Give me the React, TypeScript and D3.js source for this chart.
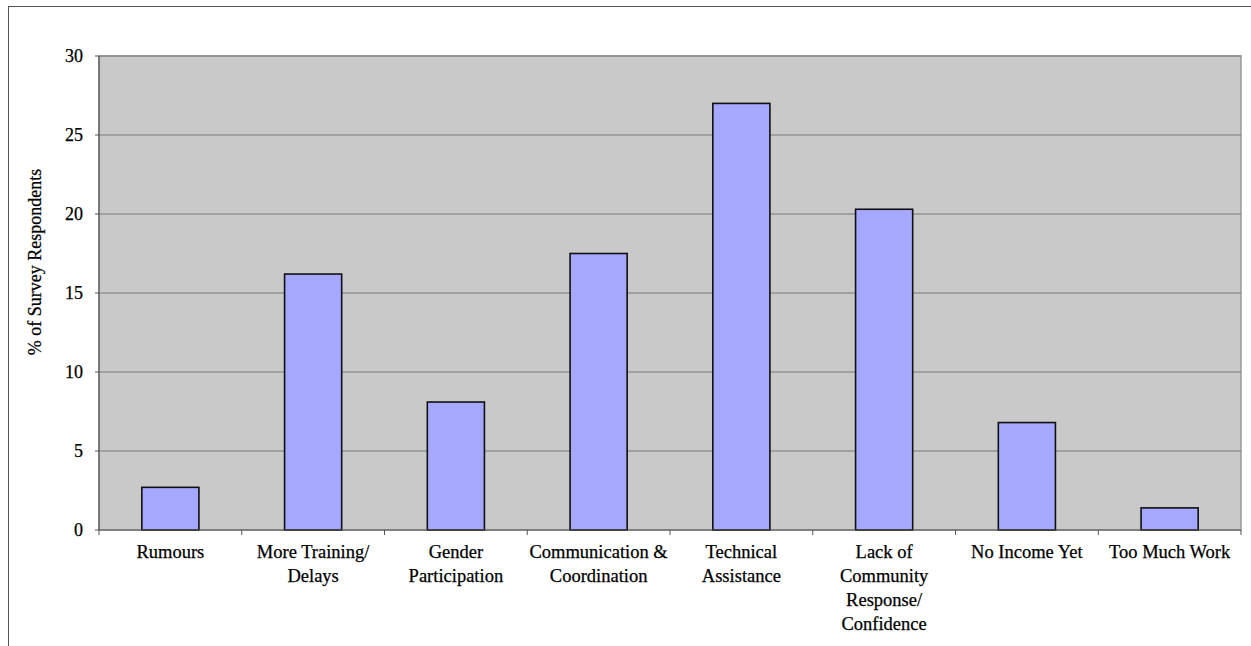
import React from "react";
import * as d3 from "d3";

const categories: string[][] = [
  ["Rumours"],
  ["More Training/", "Delays"],
  ["Gender", "Participation"],
  ["Communication &", "Coordination"],
  ["Technical", "Assistance"],
  ["Lack of", "Community", "Response/", "Confidence"],
  ["No Income Yet"],
  ["Too Much Work"],
];
const values: number[] = [2.7, 16.2, 8.1, 17.5, 27.0, 20.3, 6.8, 1.4];
const yTicks: number[] = [0, 5, 10, 15, 20, 25, 30];
const yLabel = "% of Survey Respondents";

const W = 1251;
const H = 646;
const left = 99;
const right = 1241;
const top = 56;
const bottom = 530;
const font = "'Liberation Serif', 'Times New Roman', serif";

export default function App() {
  const x = d3
    .scaleBand<number>()
    .domain(d3.range(categories.length))
    .range([left, right])
    .paddingInner(0.6)
    .paddingOuter(0.3);
  const xb = d3
    .scaleBand<number>()
    .domain(d3.range(categories.length))
    .range([left, right]);
  const y = d3.scaleLinear().domain([0, 30]).range([bottom, top]);

  const textStyle = { stroke: "#000", strokeWidth: 0.25 };

  return (
    <svg
      width={W}
      height={H}
      style={{ position: "absolute", left: 0, top: 0, display: "block" }}
    >
      <rect x={0} y={0} width={W} height={H} fill="#fff" />
      <rect
        x={8.5}
        y={6.5}
        width={W + 10}
        height={H + 10}
        fill="none"
        stroke="#555"
        strokeWidth={1}
      />
      <rect
        x={left}
        y={top}
        width={right - left}
        height={bottom - top}
        fill="#c9c9c9"
        stroke="#9a9a9a"
        strokeWidth={1.5}
      />
      {yTicks
        .filter((t) => t > 0)
        .map((t) => (
          <line
            key={"g" + t}
            x1={left}
            x2={right}
            y1={y(t)}
            y2={y(t)}
            stroke="#7a7a7a"
            strokeWidth={1.2}
          />
        ))}
      {values.map((v, i) => (
        <rect
          key={"b" + i}
          x={x(i)}
          y={y(v)}
          width={x.bandwidth()}
          height={y(0) - y(v)}
          fill="#a6a8ff"
          stroke="#111"
          strokeWidth={1.6}
        />
      ))}
      <line x1={left} x2={left} y1={top} y2={bottom} stroke="#555" strokeWidth={1.2} />
      <line x1={left} x2={right} y1={bottom} y2={bottom} stroke="#555" strokeWidth={1.2} />
      {yTicks.map((t) => (
        <g key={"yt" + t}>
          <line x1={left - 4} x2={left} y1={y(t)} y2={y(t)} stroke="#555" strokeWidth={1} />
          <text
            x={83}
            y={y(t)}
            dy="0.35em"
            textAnchor="end"
            fontFamily={font}
            fontSize={18}
            fill="#000"
            style={textStyle}
          >
            {t}
          </text>
        </g>
      ))}
      {d3.range(categories.length + 1).map((i) => {
        const xx = i < categories.length ? (xb(i) as number) : right;
        return (
          <line
            key={"xt" + i}
            x1={xx}
            x2={xx}
            y1={bottom}
            y2={bottom + 5}
            stroke="#555"
            strokeWidth={1}
          />
        );
      })}
      {categories.map((lines, i) => (
        <text
          key={"c" + i}
          x={(xb(i) as number) + xb.bandwidth() / 2}
          y={558}
          textAnchor="middle"
          fontFamily={font}
          fontSize={18.5}
          fill="#000"
          style={textStyle}
        >
          {lines.map((l, j) => (
            <tspan key={j} x={(xb(i) as number) + xb.bandwidth() / 2} dy={j === 0 ? 0 : 24}>
              {l}
            </tspan>
          ))}
        </text>
      ))}
      <text
        transform={`translate(41, 262) rotate(-90)`}
        textAnchor="middle"
        fontFamily={font}
        fontSize={18}
        fill="#000"
        style={textStyle}
      >
        {yLabel}
      </text>
    </svg>
  );
}
